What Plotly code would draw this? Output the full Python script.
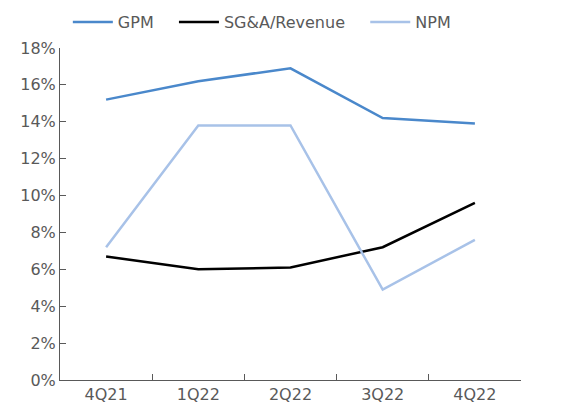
import plotly.graph_objects as go

quarters = ["4Q21", "1Q22", "2Q22", "3Q22", "4Q22"]
gpm = [15.2, 16.2, 16.9, 14.2, 13.9]
sga = [6.7, 6.0, 6.1, 7.2, 9.6]
npm = [7.2, 13.8, 13.8, 4.9, 7.6]
y_ticks = [0, 2, 4, 6, 8, 10, 12, 14, 16, 18]

pad = "\u00a0" * 3
fig = go.Figure()
fig.add_trace(go.Scatter(x=quarters, y=gpm, name="GPM" + pad, mode="lines",
                         line=dict(color="#4A88CB", width=2.5)))
fig.add_trace(go.Scatter(x=quarters, y=sga, name="SG&A/Revenue" + pad, mode="lines",
                         line=dict(color="#000000", width=2.5)))
fig.add_trace(go.Scatter(x=quarters, y=npm, name="NPM", mode="lines",
                         line=dict(color="#A8C2E8", width=2.5)))

font = dict(family="Verdana, DejaVu Sans, sans-serif", size=16, color="#595959")
fig.update_layout(
    width=571, height=414,
    margin=dict(l=52, r=58, t=40, b=42, autoexpand=False),
    plot_bgcolor="white", paper_bgcolor="white",
    font=font,
    showlegend=True,
    legend=dict(orientation="h", x=0.017, xanchor="left", y=1.078, yanchor="middle",
                font=font, itemwidth=40, tracegroupgap=0,
                bgcolor="rgba(0,0,0,0)"),
    xaxis=dict(type="category", range=[-0.5, 4.5], showline=True,
               linecolor="#595959", linewidth=1, ticks="inside", ticklen=6,
               tickcolor="#595959", showgrid=False, tickson="boundaries",
               tickfont=font),
    yaxis=dict(range=[0, 18], tickvals=y_ticks,
               ticktext=[f"{v}%" for v in y_ticks], showline=True,
               linecolor="#595959", linewidth=1, ticks="inside", ticklen=6,
               tickcolor="#595959", showgrid=False, zeroline=False,
               tickfont=font),
)
fig.write_html("out.html")
